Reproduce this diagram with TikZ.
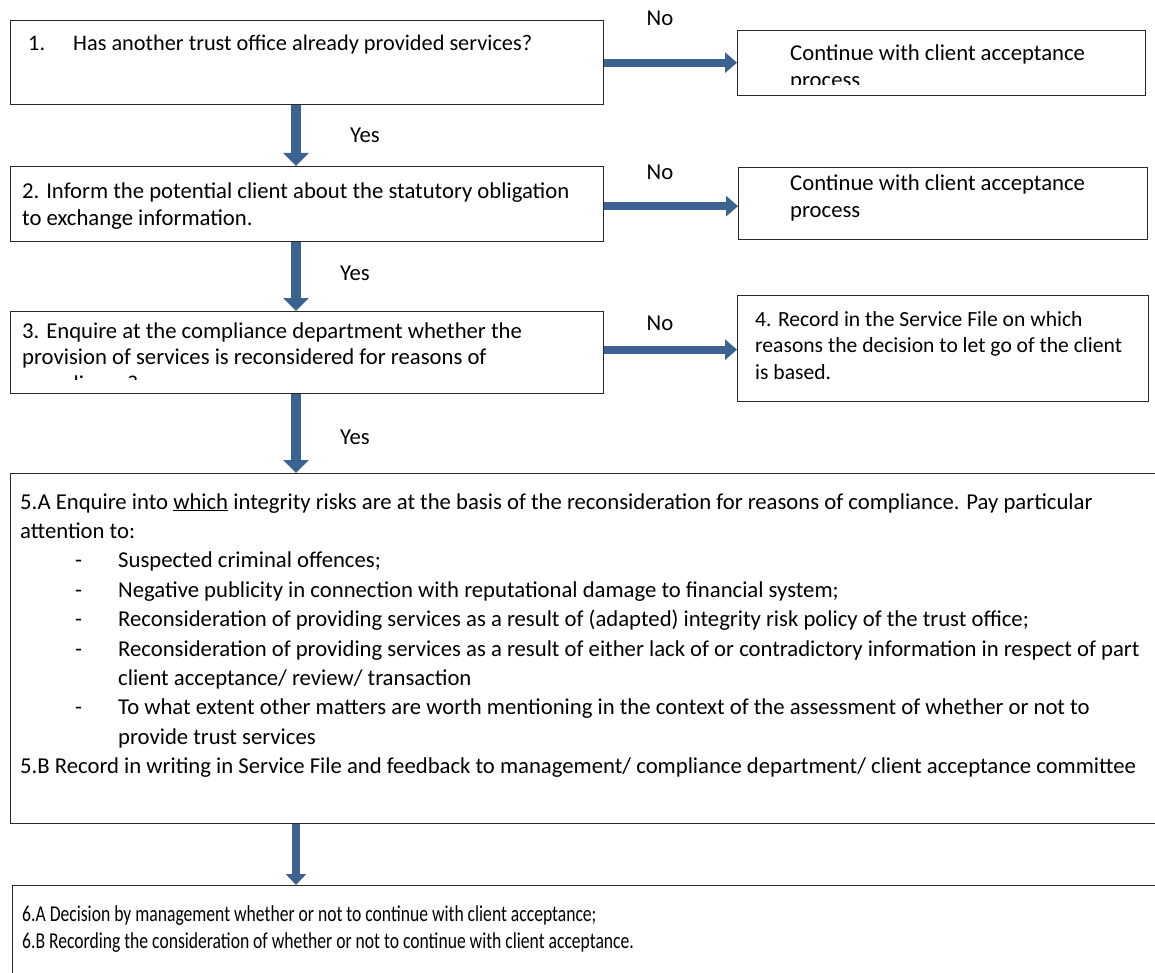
\documentclass[tikz,border=0pt]{standalone}
\usepackage{fontspec}
\setmainfont{Carlito}
\usetikzlibrary{arrows.meta}
\definecolor{arrowblue}{RGB}{60,98,146}
\definecolor{boxline}{RGB}{40,40,40}
\tikzset{
  box/.style={draw=boxline, line width=1.3pt, rectangle, inner sep=0pt, anchor=north west, fill=white},
  txt/.style={anchor=base west, inner sep=0pt, font=\fontsize{22.7}{27}\selectfont},
  txtsmall/.style={anchor=base west, inner sep=0pt, font=\fontsize{21.6}{26}\selectfont},
  txtmid/.style={anchor=base west, inner sep=0pt, font=\fontsize{22.3}{26}\selectfont},
  lbl/.style={anchor=center, inner sep=0pt, font=\fontsize{22.7}{27}\selectfont},
  harrow/.style={draw=arrowblue, line width=8pt, -{Triangle[width=20pt,length=12pt]}},
  varrow/.style={draw=arrowblue, line width=9.5pt, -{Triangle[width=25pt,length=13pt]}},
  varrowthin/.style={draw=arrowblue, line width=8pt, -{Triangle[width=20pt,length=11pt]}}
}
\begin{document}
\begin{tikzpicture}[x=1pt,y=-1pt]
\useasboundingbox (0,0) rectangle (1155,973);
\clip (0,0) rectangle (1155,973);
\fill[white] (0,0) rectangle (1155,973);

% boxes
\node[box, minimum width=593pt, minimum height=84pt] (b1) at (10,20) {};
\node[box, minimum width=408pt, minimum height=65pt] (c1) at (737,30) {};
\node[box, minimum width=593pt, minimum height=75pt] (b2) at (10,166) {};
\node[box, minimum width=409pt, minimum height=72pt] (c2) at (738,167) {};
\node[box, minimum width=593pt, minimum height=82pt] (b3) at (10,311) {};
\node[box, minimum width=411pt, minimum height=106pt] (b4) at (737,295) {};
\node[box, minimum width=1160pt, minimum height=350pt] (b5) at (10,473) {};
\node[box, minimum width=1160pt, minimum height=120pt] (b6) at (12,885) {};

\coordinate (vx) at (296,0);

% box 1 text
\node[txtmid] (t1a) at (28,51) {1.};
\node[txtmid] (t1b) at (73,51) {Has another trust office already provided services?};
\begin{scope}
\clip (c1.north west) rectangle ([yshift=12pt]c1.south east);
\node[txt] (tc1a) at (790,61) {Continue with client acceptance};
\node[txt] (tc1b) at (790,88) {process};
\end{scope}

% box 2 text
\node[txt] (t2a) at (22,199) {2. Inform the potential client about the statutory obligation};
\node[txt] (t2b) at (22,225.5) {to exchange information.};
\node[txt] (tc2a) at (790,191) {Continue with client acceptance};
\node[txt] (tc2b) at (790,217.5) {process};

% box 3 text
\begin{scope}
\clip (b3.north west) rectangle ([yshift=15pt]b3.south east);
\node[txt] (t3a) at (22,338) {3. Enquire at the compliance department whether the};
\node[txt] (t3b) at (22,364.5) {provision of services is reconsidered for reasons of};
\node[txt] (t3c) at (22,391) {compliance?};
\end{scope}

% box 4 text
\node[txtsmall] (t4a) at (755,326) {4. Record in the Service File on which};
\node[txtsmall] (t4b) at (755,352.5) {reasons the decision to let go of the client};
\node[txtsmall] (t4c) at (755,379) {is based.};

% box 5 text
\node[txt] (t5a) at (20,509) {5.A Enquire into \underline{which} integrity risks are at the basis of the reconsideration for reasons of compliance. Pay particular};
\node[txt] (t5b) at (20,538.4) {attention to:};
\node[txt] (d1) at (75,567.8) {-};
\node[txt] (t5c) at (118,567.8) {Suspected criminal offences;};
\node[txt] (d2) at (75,597.2) {-};
\node[txt] (t5d) at (118,597.2) {Negative publicity in connection with reputational damage to financial system;};
\node[txt] (d3) at (75,626.6) {-};
\node[txt] (t5e) at (118,626.6) {Reconsideration of providing services as a result of (adapted) integrity risk policy of the trust office;};
\node[txt] (d4) at (75,656) {-};
\node[txt] (t5f) at (118,656) {Reconsideration of providing services as a result of either lack of or contradictory information in respect of part};
\node[txt] (t5g) at (118,685.4) {client acceptance/ review/ transaction};
\node[txt] (d5) at (75,714.8) {-};
\node[txt] (t5h) at (118,714.8) {To what extent other matters are worth mentioning in the context of the assessment of whether or not to};
\node[txt] (t5i) at (118,744.2) {provide trust services};
\node[txt] (t5j) at (20,773.6) {5.B Record in writing in Service File and feedback to management/ compliance department/ client acceptance committee};

% box 6 text
\node[txt] (t6a) at (22,921) {\scalebox{0.775}[1]{6.A Decision by management whether or not to continue with client acceptance;}};
\node[txt] (t6b) at (22,948) {\scalebox{0.775}[1]{6.B Recording the consideration of whether or not to continue with client acceptance.}};

% horizontal arrows
\draw[harrow] (b1.east) -- (b1.east -| c1.west);
\draw[harrow] ([yshift=-2pt]b2.east) -- ([yshift=-2pt]b2.east -| c2.west);
\draw[harrow] ([yshift=3pt]b3.east) -- ([yshift=3pt]b3.east -| b4.west);
\node[lbl] (no1) at (660,18) {No};
\node[lbl] (no2) at (660,172) {No};
\node[lbl] (no3) at (660,323) {No};

% vertical arrows
\draw[varrow] (vx |- b1.south) -- (vx |- b2.north);
\draw[varrow] (vx |- b2.south) -- (vx |- b3.north);
\draw[varrow] (vx |- b3.south) -- (vx |- b5.north);
\draw[varrowthin] (vx |- b5.south) -- (vx |- b6.north);
\node[lbl] (y1) at (365,135) {Yes};
\node[lbl] (y2) at (355,273) {Yes};
\node[lbl] (y3) at (355,437) {Yes};
\end{tikzpicture}
\end{document}
